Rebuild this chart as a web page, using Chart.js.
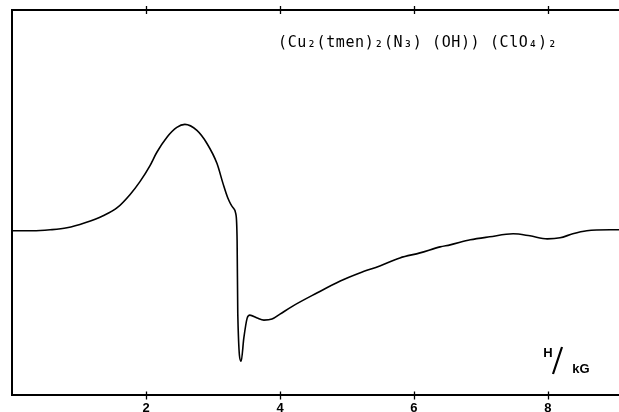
<!DOCTYPE html>
<html>
<head>
<meta charset="utf-8">
<script src="https://cdn.jsdelivr.net/npm/chart.js@4/dist/chart.umd.min.js"></script>
<style>
html,body{margin:0;padding:0;background:#fff;}
#wrap{width:619px;height:412px;position:relative;}
</style>
</head>
<body>
<div id="wrap"><canvas id="c" width="619" height="412"></canvas></div>
<script>
const fieldKG = [0.00,0.31,0.57,0.82,1.09,1.36,1.57,1.76,1.91,2.06,2.16,2.31,2.46,2.58,2.76,2.91,3.06,3.15,3.22,3.30,3.34,3.36,3.37,3.42,3.46,3.51,3.55,3.66,3.76,3.88,4.00,4.19,4.55,4.90,5.19,5.49,5.79,6.09,6.39,6.54,6.84,7.13,7.48,7.73,7.99,8.18,8.37,8.58,8.93,9.06];
const signal  = [0.00,0.00,0.01,0.03,0.08,0.15,0.23,0.36,0.49,0.65,0.78,0.93,1.03,1.06,1.00,0.87,0.67,0.47,0.33,0.23,0.17,-0.10,-0.83,-1.30,-1.07,-0.87,-0.84,-0.87,-0.89,-0.88,-0.83,-0.75,-0.62,-0.50,-0.42,-0.35,-0.27,-0.22,-0.16,-0.14,-0.09,-0.06,-0.03,-0.05,-0.08,-0.07,-0.03,0.00,0.01,0.01];
const tickValues = [2,4,6,8];
const titleText = "(Cu₂(tmen)₂(N₃) (OH)) (ClO₄)₂";
const axisUnitMain = "H";
const axisUnitSub = "kG";

const points = fieldKG.map((x,i)=>({x:x,y:signal[i]}));

const framePlugin = {
  id:'frame',
  afterDraw(chart){
    const ctx = chart.ctx, a = chart.chartArea, xs = chart.scales.x;
    ctx.save();
    ctx.strokeStyle = '#000';
    ctx.lineWidth = 2;
    ctx.beginPath();
    ctx.moveTo(a.left-1, a.top); ctx.lineTo(a.right, a.top);
    ctx.stroke();
    ctx.lineWidth = 1.3;
    tickValues.forEach(v=>{
      const px = Math.round(xs.getPixelForValue(v))+0.5;
      ctx.beginPath();
      ctx.moveTo(px, a.bottom-4); ctx.lineTo(px, a.bottom+4);
      ctx.moveTo(px, a.top-4); ctx.lineTo(px, a.top+4);
      ctx.stroke();
    });
    // title
    ctx.fillStyle = '#000';
    ctx.font = '15px "DejaVu Sans Mono"';
    ctx.textBaseline = 'middle';
    ctx.textAlign = 'left';
    if ('letterSpacing' in ctx) ctx.letterSpacing = '0.6px';
    ctx.fillText(titleText, 278, 43);
    if ('letterSpacing' in ctx) ctx.letterSpacing = '0px';
    // unit label H/kG
    ctx.font = 'bold 13px "Liberation Sans"';
    ctx.textAlign = 'center';
    ctx.fillText(axisUnitMain, 548, 353);
    ctx.lineWidth = 2.2;
    ctx.beginPath();
    ctx.moveTo(553, 374); ctx.lineTo(562, 347);
    ctx.stroke();
    ctx.fillText(axisUnitSub, 581, 369);
    ctx.restore();
  }
};

new Chart(document.getElementById('c'), {
  type:'line',
  data:{datasets:[{data:points,borderColor:'#000',borderWidth:1.6,pointRadius:0,fill:false,cubicInterpolationMode:'monotone'}]},
  options:{
    responsive:false,
    animation:false,
    layout:{padding:{left:12,top:10,right:0,bottom:-9}},
    plugins:{legend:{display:false},tooltip:{enabled:false}},
    scales:{
      x:{type:'linear',min:0,max:9.06,
         grid:{display:false,drawTicks:false},
         border:{display:true,color:'#000',width:2},
         afterBuildTicks(s){ s.ticks = tickValues.map(v=>({value:v})); },
         ticks:{color:'#000',padding:5,font:{family:'Liberation Sans',size:13,weight:'bold'},maxRotation:0}},
      y:{min:-1.64,max:2.20,
         grid:{display:false,drawTicks:false},
         border:{display:true,color:'#000',width:2},
         ticks:{display:false}}
    }
  },
  plugins:[framePlugin]
});
</script>
</body>
</html>
